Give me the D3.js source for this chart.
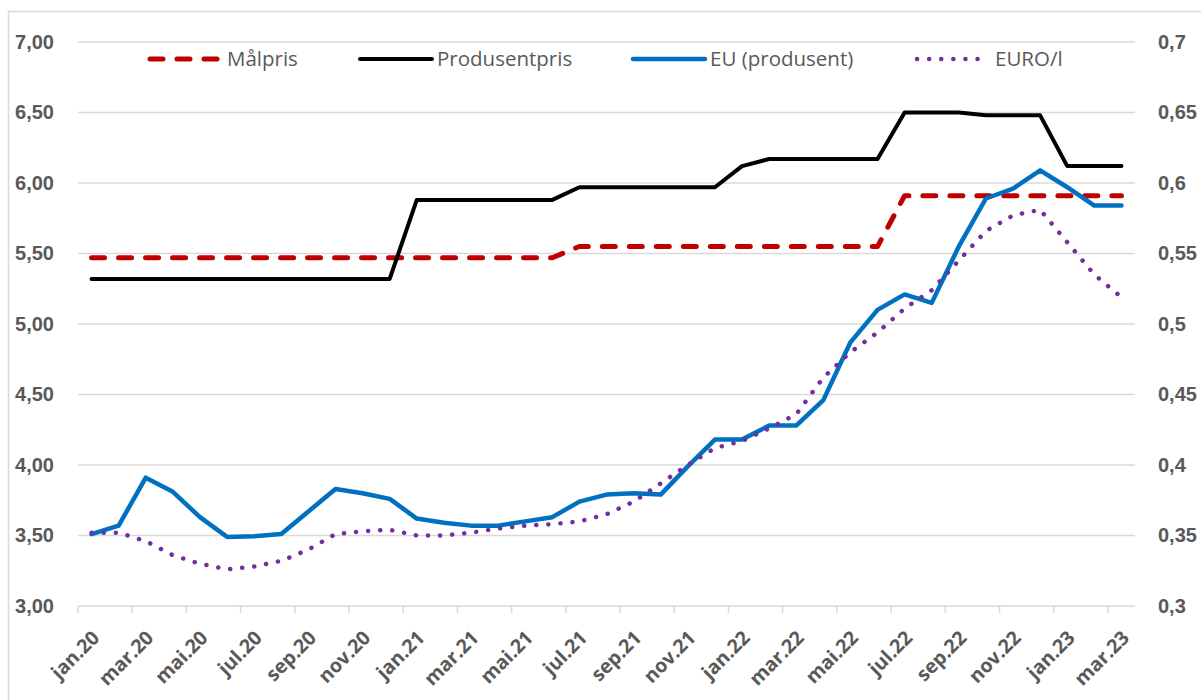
<!DOCTYPE html>
<html>
<head>
<meta charset="utf-8">
<script src="https://cdn.jsdelivr.net/npm/d3@7"></script>
<style>
  body { margin: 0; background: #fff; }
  svg { font-family: "Open Sans", sans-serif; }
</style>
</head>
<body>
<svg id="chart" width="1201" height="700"></svg>
<script>
// months jan.20 .. mar.23
const monthNames = ["jan", "feb", "mar", "apr", "mai", "jun", "jul", "aug", "sep", "okt", "nov", "des"];
const months = [];
for (let y = 20; y <= 23; y++) {
    for (let m = 0; m < 12; m++) {
        if (y === 23 && m > 2) break;
        months.push(monthNames[m] + "." + y);
    }
}

const malpris = [
    5.47, 5.47, 5.47, 5.47, 5.47, 5.47, 5.47, 5.47, 5.47, 5.47, 5.47, 5.47,
    5.47, 5.47, 5.47, 5.47, 5.47, 5.47, 5.55, 5.55, 5.55, 5.55, 5.55, 5.55,
    5.55, 5.55, 5.55, 5.55, 5.55, 5.55, 5.91, 5.91, 5.91, 5.91, 5.91, 5.91,
    5.91, 5.91, 5.91
];
const produsentpris = [
    5.32, 5.32, 5.32, 5.32, 5.32, 5.32, 5.32, 5.32, 5.32, 5.32, 5.32, 5.32,
    5.88, 5.88, 5.88, 5.88, 5.88, 5.88, 5.97, 5.97, 5.97, 5.97, 5.97, 5.97,
    6.12, 6.17, 6.17, 6.17, 6.17, 6.17, 6.50, 6.50, 6.50, 6.48, 6.48, 6.48,
    6.12, 6.12, 6.12
];
const euProdusent = [
    3.51, 3.57, 3.91, 3.81, 3.63, 3.49, 3.495, 3.51, 3.67, 3.83, 3.80, 3.76,
    3.62, 3.59, 3.57, 3.57, 3.60, 3.63, 3.74, 3.79, 3.80, 3.79, 3.99, 4.18,
    4.18, 4.28, 4.28, 4.46, 4.87, 5.10, 5.21, 5.15, 5.55, 5.89, 5.96, 6.09,
    5.97, 5.84, 5.84
];
const euroPerLiter = [
    0.352, 0.352, 0.346, 0.336, 0.330, 0.326, 0.328, 0.332, 0.340, 0.351, 0.353, 0.354,
    0.350, 0.350, 0.352, 0.355, 0.357, 0.358, 0.360, 0.365, 0.374, 0.387, 0.400, 0.412,
    0.417, 0.426, 0.436, 0.462, 0.480, 0.494, 0.511, 0.524, 0.545, 0.566, 0.577, 0.581,
    0.558, 0.535, 0.519
];

const leftTicks = [3, 3.5, 4, 4.5, 5, 5.5, 6, 6.5, 7];
const rightTicks = [0.3, 0.35, 0.4, 0.45, 0.5, 0.55, 0.6, 0.65, 0.7];

const series = [
    { name: "Målpris", values: malpris, axis: "left", color: "#C00000", width: 5, dash: "13,14", legendX: 150 },
    { name: "Produsentpris", values: produsentpris, axis: "left", color: "#000000", width: 4, dash: null, legendX: 360 },
    { name: "EU (produsent)", values: euProdusent, axis: "left", color: "#0070C0", width: 4.5, dash: null, legendX: 633 },
    { name: "EURO/l", values: euroPerLiter, axis: "right", color: "#7030A0", width: 4.5, dash: "0.1,12", legendX: 917 }
];

const plot = { left: 78, right: 1135, top: 42, bottom: 606 };
const grey = "#595959";
const gridColor = "#d9d9d9";

const locale = d3.formatLocale({ decimal: ",", thousands: " ", grouping: [3], currency: ["", " kr"] });
const fmtLeft = locale.format(".2f");
const fmtRight = locale.format(".2~f");

const svg = d3.select("#chart");

// chart border
svg.append("rect")
    .attr("x", 8.5).attr("y", 11.5)
    .attr("width", 1200).attr("height", 700)
    .attr("fill", "none")
    .attr("stroke", gridColor)
    .attr("stroke-width", 1.5);

const x = d3.scaleBand().domain(months).range([plot.left, plot.right]).padding(0);
const yLeft = d3.scaleLinear().domain([3, 7]).range([plot.bottom, plot.top]);
const yRight = d3.scaleLinear().domain([0.3, 0.7]).range([plot.bottom, plot.top]);

// gridlines
svg.append("g")
    .selectAll("line")
    .data(leftTicks.slice(1))
    .join("line")
    .attr("x1", plot.left).attr("x2", plot.right)
    .attr("y1", d => yLeft(d)).attr("y2", d => yLeft(d))
    .attr("stroke", gridColor)
    .attr("stroke-width", 1.5);

// left axis
const leftAxis = svg.append("g")
    .attr("transform", `translate(${plot.left},0)`)
    .call(d3.axisLeft(yLeft).tickValues(leftTicks).tickFormat(fmtLeft).tickSize(0).tickPadding(24));
leftAxis.select(".domain").remove();
leftAxis.selectAll("text")
    .attr("fill", grey)
    .style("font-size", "20px")
    .style("font-weight", "bold");

// right axis
const rightAxis = svg.append("g")
    .attr("transform", `translate(${plot.right},0)`)
    .call(d3.axisRight(yRight).tickValues(rightTicks).tickFormat(fmtRight).tickSize(0).tickPadding(23));
rightAxis.select(".domain").remove();
rightAxis.selectAll("text")
    .attr("fill", grey)
    .style("font-size", "20px")
    .style("font-weight", "bold");

// x axis baseline + ticks every second month
const xAxis = svg.append("g");
xAxis.append("line")
    .attr("x1", plot.left).attr("x2", plot.right)
    .attr("y1", plot.bottom).attr("y2", plot.bottom)
    .attr("stroke", gridColor)
    .attr("stroke-width", 1.5);

const tickMonths = months.filter((d, i) => i % 2 === 0);
xAxis.selectAll(".tick")
    .data(tickMonths)
    .join("line")
    .attr("class", "tick")
    .attr("x1", d => x(d)).attr("x2", d => x(d))
    .attr("y1", plot.bottom).attr("y2", plot.bottom + 7)
    .attr("stroke", gridColor)
    .attr("stroke-width", 1.5);

xAxis.selectAll("text")
    .data(tickMonths)
    .join("text")
    .attr("transform", d => `translate(${x(d) + x.bandwidth() / 2 + 9},${plot.bottom + 33}) rotate(-45)`)
    .attr("text-anchor", "end")
    .attr("fill", grey)
    .style("font-size", "19.5px")
    .style("font-weight", "bold")
    .text(d => d);

// lines
const chart = svg.append("g");
series.forEach(s => {
    const yScale = s.axis === "left" ? yLeft : yRight;
    const line = d3.line()
        .x((d, i) => x(months[i]) + x.bandwidth() / 2)
        .y(d => yScale(d));
    chart.append("path")
        .datum(s.values)
        .attr("d", line)
        .attr("fill", "none")
        .attr("stroke", s.color)
        .attr("stroke-width", s.width)
        .attr("stroke-linecap", "round")
        .attr("stroke-linejoin", "round")
        .attr("stroke-dasharray", s.dash);
});

// legend
const legend = svg.append("g").attr("transform", "translate(0,59)");
series.forEach(s => {
    const g = legend.append("g").attr("transform", `translate(${s.legendX},0)`);
    const len = s.axis === "right" ? 65 : 72;
    g.append("line")
        .attr("x1", 0).attr("x2", len)
        .attr("y1", 0).attr("y2", 0)
        .attr("stroke", s.color)
        .attr("stroke-width", s.width)
        .attr("stroke-linecap", "round")
        .attr("stroke-dasharray", s.dash);
    g.append("text")
        .attr("x", s.axis === "right" ? len + 13 : len + 5)
        .attr("y", 0)
        .attr("dy", "0.35em")
        .attr("fill", grey)
        .style("font-size", "20.5px")
        .text(s.name);
});
</script>
</body>
</html>
